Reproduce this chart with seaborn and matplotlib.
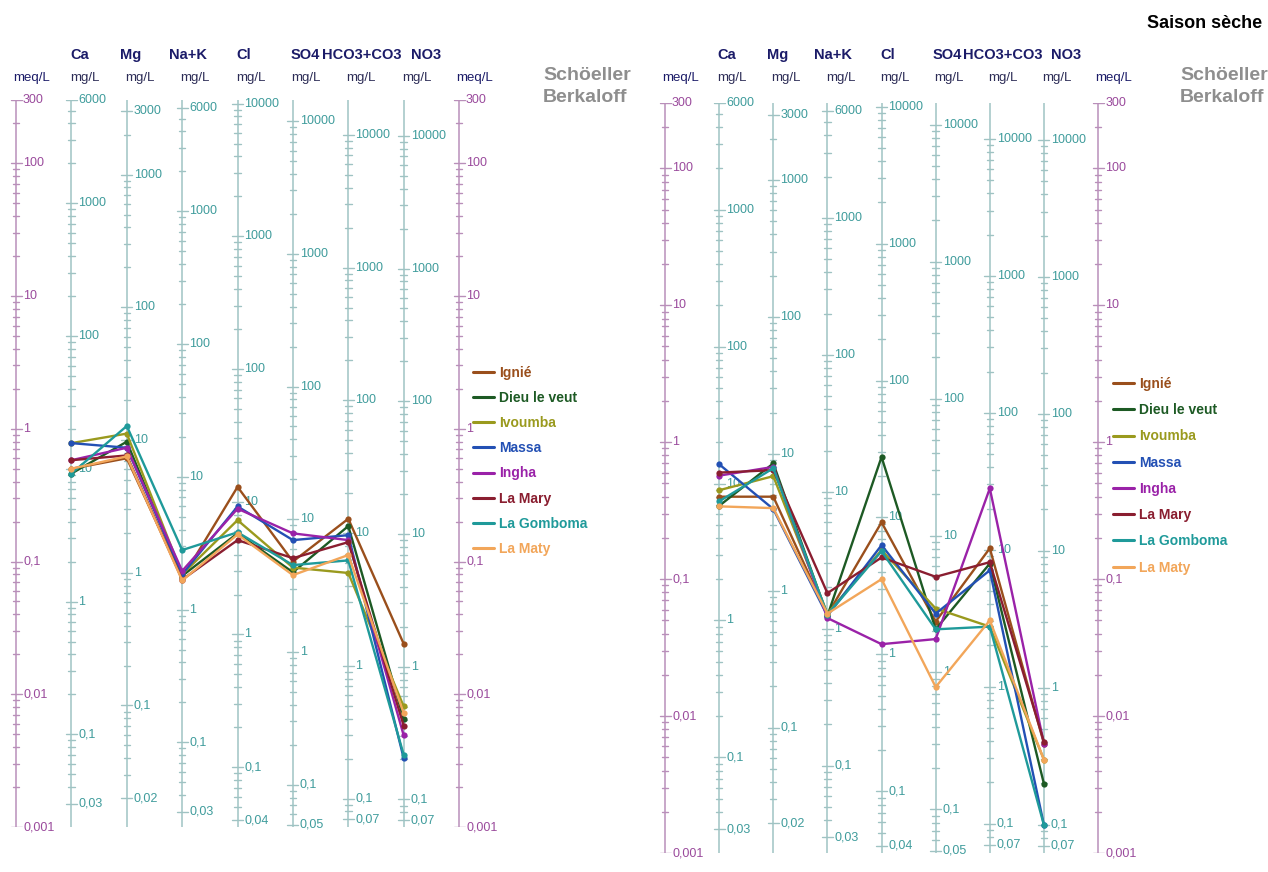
import matplotlib
matplotlib.use('Agg')
import matplotlib.pyplot as plt
from matplotlib.lines import Line2D
from matplotlib import font_manager
import numpy as np
import pandas as pd
import seaborn as sns

# ions of the Schoeller-Berkaloff diagram and their equivalent weights (mg per meq)
ions = ['Ca', 'Mg', 'Na+K', 'Cl', 'SO4', 'HCO3+CO3', 'NO3']
eq_weight = [20.04, 12.15, 23.0, 35.45, 48.03, 61.02, 62.0]

stations = ['Ignié', 'Dieu le veut', 'Ivoumba', 'Massa', 'Ingha', 'La Mary', 'La Gomboma', 'La Maty']
station_colors = ['#9a4f1c', '#1d5a24', '#9a9a1e', '#2350b4', '#9a22a8', '#8a1e30', '#1f9a9a', '#f2a65a']

meq_labels = [300, 100, 10, 1, 0.1, 0.01, 0.001]
mg_labels = [
    [6000, 1000, 100, 10, 1, 0.1, 0.03],
    [3000, 1000, 100, 10, 1, 0.1, 0.02],
    [6000, 1000, 100, 10, 1, 0.1, 0.03],
    [10000, 1000, 100, 10, 1, 0.1, 0.04],
    [10000, 1000, 100, 10, 1, 0.1, 0.05],
    [10000, 1000, 100, 10, 1, 0.1, 0.07],
    [10000, 1000, 100, 10, 1, 0.1, 0.07],
]

# values in meq/L : Ca, Mg, Na+K, Cl, SO4, HCO3+CO3, NO3
# left diagram
left_ignie = [0.50, 0.60, 0.075, 0.365, 0.100, 0.210, 0.0240]
left_dieu = [0.46, 0.80, 0.078, 0.163, 0.083, 0.185, 0.0065]
left_ivoumba = [0.78, 0.92, 0.080, 0.205, 0.090, 0.082, 0.0081]
left_massa = [0.78, 0.72, 0.080, 0.260, 0.145, 0.158, 0.0033]
left_ingha = [0.58, 0.72, 0.085, 0.250, 0.163, 0.145, 0.0049]
left_mary = [0.58, 0.63, 0.073, 0.145, 0.106, 0.140, 0.0058]
left_gomboma = [0.46, 1.05, 0.122, 0.166, 0.094, 0.102, 0.0035]
left_maty = [0.50, 0.62, 0.072, 0.160, 0.079, 0.112, 0.0072]

# right diagram (saison seche)
right_ignie = [0.40, 0.40, 0.055, 0.260, 0.049, 0.168, 0.0063]
right_dieu = [0.343, 0.70, 0.054, 0.780, 0.043, 0.130, 0.0032]
right_ivoumba = [0.446, 0.565, 0.056, 0.163, 0.061, 0.045, 0.0048]
right_massa = [0.69, 0.325, 0.054, 0.177, 0.056, 0.116, 0.0016]
right_ingha = [0.57, 0.66, 0.052, 0.0335, 0.0365, 0.46, 0.0063]
right_mary = [0.60, 0.625, 0.079, 0.144, 0.104, 0.133, 0.0065]
right_gomboma = [0.37, 0.645, 0.055, 0.160, 0.043, 0.045, 0.0016]
right_maty = [0.34, 0.33, 0.056, 0.100, 0.0163, 0.050, 0.0048]

left_values = [left_ignie, left_dieu, left_ivoumba, left_massa, left_ingha, left_mary, left_gomboma, left_maty]
right_values = [right_ignie, right_dieu, right_ivoumba, right_massa, right_ingha, right_mary, right_gomboma, right_maty]

header_offset_px = [8, 4, 6, 6, 12, 13, 22]

meq_line = '#b98fba'
meq_text = '#9a4a9c'
col_line = '#9fc3c3'
col_text = '#3f9c9c'
navy = '#1b1b68'
unit_col = '#2c2c56'

sns.set_style('white')
names = set(f.name for f in font_manager.fontManager.ttflist)
base_font = 'Liberation Sans Narrow' if 'Liberation Sans Narrow' in names else 'Liberation Sans'
plt.rcParams['font.family'] = [base_font, 'DejaVu Sans']


def fmt(v):
    return '{:g}'.format(v).replace('.', ',')


def log_ticks(lo, hi):
    out = []
    for k in range(-5, 6):
        for d in range(1, 10):
            v = d * 10.0 ** k
            if lo * (1 - 1e-6) <= v <= hi * (1 + 1e-6):
                out.append(v)
    return out


def draw_scale(ax, xpos, ticks, majors, factor, lc, tc, px):
    ax.plot([xpos, xpos], [0.001, 300], color=lc, lw=1.1, solid_capstyle='butt', zorder=1)
    for v in ticks:
        major = any(np.isclose(v, m, rtol=1e-6) for m in majors)
        hw = (5.5 if major else 3.2) / px
        ax.plot([xpos - hw, xpos + hw], [v / factor, v / factor], color=lc, lw=1.0, zorder=1)
    for m in majors:
        ax.text(xpos + 7 / px, m / factor, fmt(m), color=tc, fontsize=9,
                ha='left', va='center', zorder=1)


def draw_diagram(ax, values, px, head_y, unit_y):
    ax.set_yscale('log')
    ax.set_ylim(0.001, 300)
    ax.set_xlim(-0.25, 8.25)
    ax.axis('off')
    tr = ax.get_xaxis_transform()

    for xpos in [0, 8]:
        draw_scale(ax, xpos, log_ticks(0.001, 300), meq_labels, 1.0, meq_line, meq_text, px)
        ax.text(xpos + 15 / px, unit_y, 'meq/L', transform=tr, ha='center', va='center',
                fontsize=9.5, color=navy)

    for i, ion in enumerate(ions):
        xpos = i + 1
        w = eq_weight[i]
        draw_scale(ax, xpos, log_ticks(0.001 * w, 300 * w), mg_labels[i], w, col_line, col_text, px)
        ax.text(xpos + header_offset_px[i] / px, head_y, ion, transform=tr, ha='center',
                va='center', fontsize=10.5, fontweight='bold', color=navy)
        ax.text(xpos + 13 / px, unit_y, 'mg/L', transform=tr, ha='center', va='center',
                fontsize=9.5, color=unit_col)

    rows = []
    for name, vals in zip(stations, values):
        for i, v in enumerate(vals):
            rows.append({'station': name, 'pos': i + 1, 'meq': v})
    df = pd.DataFrame(rows)
    sns.lineplot(data=df, x='pos', y='meq', hue='station', hue_order=stations,
                 palette=dict(zip(stations, station_colors)), marker='o', markersize=4.5,
                 markeredgewidth=0, linewidth=1.7, sort=False, estimator=None,
                 legend=False, ax=ax, zorder=3)


fig = plt.figure(figsize=(12.68, 8.72), dpi=100)
fig.patch.set_facecolor('white')

ax_l = fig.add_axes([2.2 / 1268, 1 - 827 / 872, 470.7 / 1268, 727 / 872])
ax_r = fig.add_axes([651.5 / 1268, 1 - 853 / 872, 460.1 / 1268, 750 / 872])

draw_diagram(ax_l, left_values, 55.375, 1 + 45 / 727, 1 + 22 / 727)
draw_diagram(ax_r, right_values, 54.125, 1 + 48 / 750, 1 + 25 / 750)

handles = [Line2D([], [], color=c, lw=2.2) for c in station_colors]
for (lx, ly, sp) in [(473, 366, 0.8), (1113, 377, 0.88)]:
    leg = fig.legend(handles, stations, loc='upper left',
                     bbox_to_anchor=(lx / 1268, 1 - ly / 872), frameon=False,
                     prop={'weight': 'bold', 'size': 10}, handlelength=1.5,
                     handletextpad=0.4, labelspacing=sp, borderpad=0, borderaxespad=0)
    for t, c in zip(leg.get_texts(), station_colors):
        t.set_color(c)

for sx in [543, 1180]:
    for word, wy in [('Schöeller', 75), ('Berkaloff', 98)]:
        fig.text(sx / 1268, 1 - wy / 872, word, ha='left', va='center',
                 fontsize=14, fontweight='bold', color='#8e8e8e')

fig.text(1262 / 1268, 1 - 23 / 872, 'Saison sèche', ha='right', va='center',
         fontsize=13, fontweight='bold', color='black')

fig.savefig('out.png', dpi=100, facecolor='white')
